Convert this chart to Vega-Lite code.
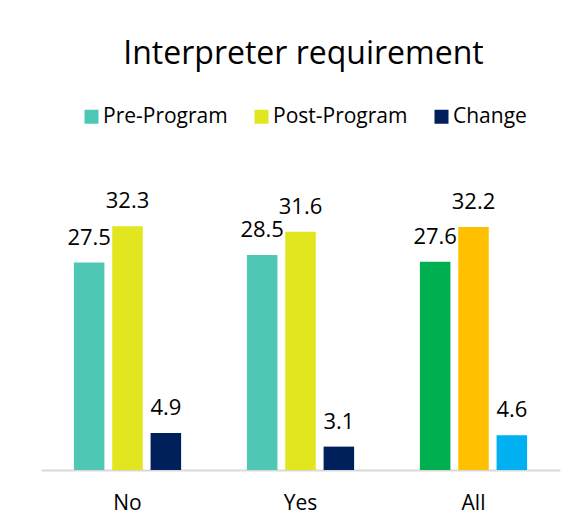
{
  "$schema": "https://vega.github.io/schema/vega-lite/v6.json",
  "width": 519,
  "height": 264,
  "autosize": {"type": "none"},
  "padding": {"left": 41, "top": 206, "right": 13, "bottom": 61},
  "background": "white",
  "title": {"text": "Interpreter requirement", "font": "Open Sans", "fontSize": 32, "fontWeight": "normal", "color": "#000000", "anchor": "middle", "baseline": "alphabetic", "offset": 10, "dx": 3},
  "config": {"view": {"stroke": null}, "font": "Open Sans"},
  "data": {
    "values": [
      {"group": "No", "series": "Pre-Program", "value": 27.5},
      {"group": "No", "series": "Post-Program", "value": 32.3},
      {"group": "No", "series": "Change", "value": 4.9},
      {"group": "Yes", "series": "Pre-Program", "value": 28.5},
      {"group": "Yes", "series": "Post-Program", "value": 31.6},
      {"group": "Yes", "series": "Change", "value": 3.1},
      {"group": "All", "series": "Pre-Program", "value": 27.6},
      {"group": "All", "series": "Post-Program", "value": 32.2},
      {"group": "All", "series": "Change", "value": 4.6}
    ]
  },
  "encoding": {
    "x": {"field": "group", "type": "nominal", "sort": ["No", "Yes", "All"], "scale": {"paddingInner": 0.335, "paddingOuter": 0.1675},
      "axis": {"title": null, "labelAngle": 0, "ticks": false, "domainColor": "#d9d9d9", "domainWidth": 2, "labelFont": "Open Sans", "labelFontSize": 21, "labelColor": "#000000", "labelPadding": 22}},
    "xOffset": {"field": "series", "type": "nominal", "sort": ["Pre-Program", "Post-Program", "Change"], "scale": {"paddingInner": 0.204, "paddingOuter": 0.102}},
    "y": {"field": "value", "type": "quantitative", "scale": {"domain": [0, 35]}, "axis": null}
  },
  "layer": [
    {
      "transform": [{"filter": "datum.group !== 'All'"}],
      "mark": {"type": "bar"},
      "encoding": {
        "color": {"field": "series", "type": "nominal", "sort": ["Pre-Program", "Post-Program", "Change"],
          "scale": {"domain": ["Pre-Program", "Post-Program", "Change"], "range": ["#4EC8B4", "#E1E61F", "#00205B"]},
          "legend": {"title": null, "orient": "none", "direction": "horizontal", "legendX": 40, "legendY": -100, "symbolType": "square", "symbolSize": 196, "symbolStrokeWidth": 0, "labelFont": "Open Sans", "labelFontSize": 21, "labelColor": "#000000", "labelOffset": 1, "columnPadding": 23}}
      }
    },
    {
      "transform": [{"filter": "datum.group === 'All'"}],
      "mark": {"type": "bar"},
      "encoding": {
        "color": {"field": "series", "type": "nominal", "sort": ["Pre-Program", "Post-Program", "Change"],
          "scale": {"domain": ["Pre-Program", "Post-Program", "Change"], "range": ["#00B050", "#FFC000", "#00B0F0"]},
          "legend": null}
      }
    },
    {
      "mark": {"type": "text", "baseline": "alphabetic", "dy": -18, "fontSize": 22, "font": "Open Sans", "color": "#000000"},
      "encoding": {"text": {"field": "value", "type": "quantitative", "format": ".1f"}}
    }
  ],
  "resolve": {"scale": {"color": "independent"}}
}
